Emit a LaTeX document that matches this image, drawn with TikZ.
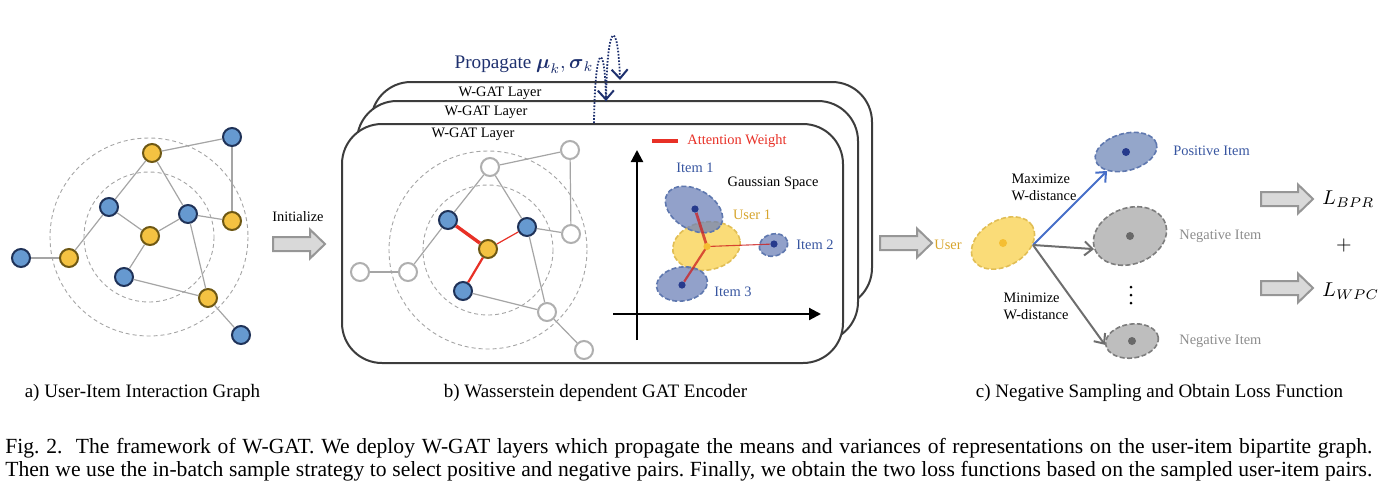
\documentclass[tikz,border=0pt]{standalone}
\usepackage{amsmath}
\usepackage{fontspec}
\setmainfont{Liberation Serif}
\usetikzlibrary{arrows.meta,shapes.geometric}
\definecolor{nodeblue}{RGB}{102,153,208}
\definecolor{nodeblueb}{RGB}{31,50,88}
\definecolor{nodeyel}{RGB}{244,194,66}
\definecolor{nodeyelb}{RGB}{110,88,20}
\definecolor{edgegray}{RGB}{165,165,165}
\definecolor{ringgray}{RGB}{165,165,165}
\definecolor{fadegray}{RGB}{175,175,175}
\definecolor{attred}{RGB}{232,48,38}
\definecolor{linkred}{RGB}{205,30,30}
\definecolor{navy}{RGB}{30,48,110}
\definecolor{gblue}{RGB}{110,130,185}
\definecolor{gblueb}{RGB}{95,120,175}
\definecolor{gdot}{RGB}{38,58,140}
\definecolor{gyel}{RGB}{250,220,120}
\definecolor{gyelb}{RGB}{225,190,85}
\definecolor{gyeldot}{RGB}{245,190,50}
\definecolor{ggray}{RGB}{190,190,190}
\definecolor{ggrayb}{RGB}{125,125,125}
\definecolor{gdotgray}{RGB}{105,105,105}
\definecolor{posfill}{RGB}{148,166,202}
\definecolor{txtblue}{RGB}{55,85,160}
\definecolor{txtgold}{RGB}{215,165,45}
\definecolor{txtgray}{RGB}{140,140,140}
\definecolor{arrfill}{RGB}{217,217,217}
\definecolor{arrdraw}{RGB}{150,150,150}
\definecolor{boxline}{RGB}{60,60,60}
\definecolor{posarrow}{RGB}{70,110,200}
\definecolor{negarrow}{RGB}{110,110,110}
\tikzset{
  gnode/.style={circle, inner sep=0pt, minimum size=9pt, line width=1pt},
  bnode/.style={gnode, fill=nodeblue, draw=nodeblueb},
  ynode/.style={gnode, fill=nodeyel, draw=nodeyelb},
  wnode/.style={gnode, fill=white, draw=fadegray},
  gedge/.style={draw=edgegray, line width=0.6pt},
  ring/.style={draw=ringgray, line width=0.45pt, dash pattern=on 2pt off 1.5pt},
  lbl/.style={font=\fontsize{7.2}{8.6}\selectfont, inner sep=0pt},
  layerbox/.style={draw=boxline, fill=white, line width=1pt, rounded corners=20pt},
  gauss/.style={ellipse, inner sep=0pt, dash pattern=on 2.5pt off 1.2pt, line width=0.8pt},
  gdotst/.style={circle, inner sep=0pt, minimum size=3.6pt},
  vdotst/.style={circle, inner sep=0pt, minimum size=1.5pt, fill=black},
  prop/.style={draw=navy, line width=0.9pt, dash pattern=on 0.8pt off 0.8pt,
     -{Straight Barb[length=4.5pt,width=8pt,line width=1pt]}},
  bigarr/.pic={\draw[fill=arrfill, draw=arrdraw, line width=1pt]
     (0,-7) -- (37,-7) -- (37,-14.5) -- (52,0) -- (37,14.5) -- (37,7) -- (0,7) -- cycle;},
  axis/.style={line width=1.1pt, -{Triangle[length=6pt,width=6pt]}},
  carrow/.style={line width=1pt, -{Straight Barb[length=4pt,width=7pt,line width=1pt]}},
  capline/.style={font=\fontsize{10.8}{12}\selectfont, inner sep=0pt, anchor=base west}
}
\frenchspacing
\begin{document}
\begin{tikzpicture}[x=0.5pt,y=-0.5pt]
\useasboundingbox (0,0) rectangle (1378,494);

% ---------------- panel a ----------------
\draw[ring] (149,237) circle [radius=99];
\draw[ring] (149,237) circle [radius=65];
\node[bnode] (aTR) at (232,137) {};
\node[ynode] (aYT) at (152,153) {};
\node[bnode] (aBLI) at (109,207) {};
\node[bnode] (aBRI) at (188,214) {};
\node[ynode] (aYR) at (232,221) {};
\node[ynode] (aYC) at (150,236) {};
\node[bnode] (aBFL) at (21,258) {};
\node[ynode] (aYL) at (69,258) {};
\node[bnode] (aBB) at (124,277) {};
\node[ynode] (aYB) at (208,298) {};
\node[bnode] (aBBR) at (241,335) {};
\draw[gedge] (aTR) -- (aYT);
\draw[gedge] (aTR) -- (aYR);
\draw[gedge] (aYT) -- (aBLI);
\draw[gedge] (aYT) -- (aBRI);
\draw[gedge] (aBLI) -- (aYC);
\draw[gedge] (aBLI) -- (aYL);
\draw[gedge] (aBRI) -- (aYC);
\draw[gedge] (aBRI) -- (aYR);
\draw[gedge] (aBRI) -- (aYB);
\draw[gedge] (aYC) -- (aBB);
\draw[gedge] (aBFL) -- (aYL);
\draw[gedge] (aBB) -- (aYB);
\draw[gedge] (aYB) -- (aBBR);

\node[lbl] (tInit) at (298,217) {Initialize};
\pic (arrInit) at (273,244) {bigarr};

% ---------------- panel b ----------------
\draw[layerbox] (371,82) rectangle (872,308);
\draw[layerbox] (357,101) rectangle (858,342);
\draw[layerbox] (342,124) rectangle (843,363);
\node[lbl] (tL3) at (500,93) {W-GAT Layer};
\node[lbl] (tL2) at (486,112) {W-GAT Layer};
\node[lbl] (tL1) at (473,134) {W-GAT Layer};
\node[font=\fontsize{9.6}{11}\selectfont, text=navy, inner sep=0pt] (tProp) at (524,65)
   {Propagate $\boldsymbol{\mu}_k,\boldsymbol{\sigma}_k$};
\coordinate (p1s) at (594,123);
\coordinate (p1e) at (606,101);
\coordinate (p2e) at (620,80);
\draw[prop] (p1s) .. controls (595,40) and (605,40) .. (p1e);
\draw[prop] (p1e) .. controls (607,18) and (618,18) .. (p2e);

\draw[ring] (488,250) circle [radius=99];
\draw[ring] (488,250) circle [radius=65];
\node[wnode] (bTR) at (570,150) {};
\node[wnode] (bYT) at (490,167) {};
\node[bnode] (bBLI) at (448,220) {};
\node[bnode] (bBRI) at (527,227) {};
\node[wnode] (bYR) at (571,234) {};
\node[ynode] (bYC) at (488,249) {};
\node[wnode] (bBFL) at (360,272) {};
\node[wnode] (bYL) at (408,272) {};
\node[bnode] (bBB) at (463,291) {};
\node[wnode] (bYB) at (547,312) {};
\node[wnode] (bBBR) at (584,350) {};
\draw[gedge] (bTR) -- (bYT);
\draw[gedge] (bTR) -- (bYR);
\draw[gedge] (bYT) -- (bBLI);
\draw[gedge] (bYT) -- (bBRI);
\draw[gedge] (bBLI) -- (bYL);
\draw[gedge] (bBRI) -- (bYR);
\draw[gedge] (bBRI) -- (bYB);
\draw[gedge] (bBFL) -- (bYL);
\draw[gedge] (bBB) -- (bYB);
\draw[gedge] (bYB) -- (bBBR);
\draw[attred, line width=1.7pt] (bBLI) -- (bYC);
\draw[attred, line width=0.6pt] (bBRI) -- (bYC);
\draw[attred, line width=1.1pt] (bBB) -- (bYC);

% Gaussian space
\coordinate (yax0) at (637,340);
\coordinate (yax1) at (637,150);
\coordinate (xax0) at (613,314);
\coordinate (xax1) at (821,314);
\draw[axis] (yax0) -- (yax1);
\draw[axis] (xax0) -- (xax1);
\coordinate (leg0) at (652,141);
\coordinate (leg1) at (678,141);
\draw[attred, line width=1.6pt] (leg0) -- (leg1);
\node[lbl, text=attred, anchor=west] (tAtt) at (687,141) {Attention Weight};
\node[lbl, text=txtblue] (tI1) at (695,168) {Item 1};
\node[lbl] (tGS) at (773,183) {Gaussian Space};
\node[lbl, text=txtgold] (tU1) at (752,215) {User 1};
\node[lbl, text=txtblue, anchor=west] (tI2) at (796,245) {Item 2};
\node[lbl, text=txtblue, anchor=west] (tI3) at (714,292) {Item 3};

\node[gauss, fill=gyel, draw=gyelb, minimum width=34pt, minimum height=24pt, rotate=10] (gUser) at (706.5,246) {};
\node[gauss, fill=gblue, fill opacity=0.75, draw=gblueb, minimum width=31pt, minimum height=20pt, rotate=-30] (gItem1) at (694,209.5) {};
\node[gauss, fill=gblue, fill opacity=0.75, draw=gblueb, minimum width=14.5pt, minimum height=11pt, rotate=15] (gItem2) at (773.5,245) {};
\node[gauss, fill=gblue, fill opacity=0.75, draw=gblueb, minimum width=25.5pt, minimum height=17pt, rotate=8] (gItem3) at (682,284) {};
\node[gdotst, fill=gdot] (dI1) at (695,209) {};
\node[gdotst, fill=gdot] (dI2) at (774,244) {};
\node[gdotst, fill=gdot] (dI3) at (682,285) {};
\draw[linkred, opacity=0.75, line width=1.4pt] (707,246.5) -- (dI1);
\draw[linkred, opacity=0.8, line width=0.55pt] (707,246.5) -- (dI2);
\draw[linkred, opacity=0.75, line width=1.1pt] (707,246.5) -- (dI3);
\node[gdotst, fill=gyeldot] (dU) at (707,246.5) {};

% ---------------- panel c ----------------
\pic (arrEnc) at (880,243) {bigarr};
\node[lbl, text=txtgold] (tUser) at (948,245) {User};
\node[gauss, fill=gyel, draw=gyelb, minimum width=34pt, minimum height=23pt, rotate=30] (cUser) at (1003,243) {};
\node[gdotst, minimum size=4pt, fill=gyeldot] (cUd) at (1003,243) {};
\node[gauss, fill=posfill, draw=gblueb, minimum width=31.5pt, minimum height=18.5pt, rotate=15] (cPos) at (1126,152) {};
\node[gdotst, minimum size=4pt, fill=gdot] (cPd) at (1126,152) {};
\node[gauss, fill=ggray, draw=ggrayb, minimum width=37.5pt, minimum height=28pt, rotate=20] (cNeg1) at (1130,236) {};
\node[gdotst, minimum size=4pt, fill=gdotgray] (cN1d) at (1130,236) {};
\node[gauss, fill=ggray, draw=ggrayb, minimum width=26.5pt, minimum height=17pt, rotate=8] (cNeg2) at (1132,341) {};
\node[gdotst, minimum size=4pt, fill=gdotgray] (cN2d) at (1132,341) {};
\node[vdotst] (vd1) at (1131,287) {};
\node[vdotst] (vd2) at (1131,295) {};
\node[vdotst] (vd3) at (1131,303) {};

\node[lbl, text=txtblue, anchor=west] (tPos) at (1173,151) {Positive Item};
\node[lbl, text=txtgray, anchor=west] (tNeg1) at (1179,236) {Negative Item};
\node[lbl, text=txtgray, anchor=west] (tNeg2) at (1179,341) {Negative Item};

\coordinate (uo) at (1033,245);
\draw[carrow, draw=posarrow] (uo) -- (cPos);
\draw[carrow, draw=negarrow] (uo) -- (cNeg1.west);
\draw[carrow, draw=negarrow] (uo) -- (cNeg2.west);
\node[lbl, align=left] (tMax) at (1044,187) {Maximize\\W-distance};
\node[lbl, align=left] (tMin) at (1036,306) {Minimize\\W-distance};

\pic (arrL1) at (1261,199) {bigarr};
\pic (arrL2) at (1261,288) {bigarr};
\node[font=\fontsize{9.6}{12}\selectfont, anchor=west, inner sep=0pt] (tLBPR) at (1322,199) {$L_{BPR}$};
\node[font=\fontsize{10}{12}\selectfont, inner sep=0pt] (tPlus) at (1344,245) {$+$};
\node[font=\fontsize{9.6}{12}\selectfont, anchor=west, inner sep=0pt] (tLWPC) at (1322,291) {$L_{WPC}$};

% ---------------- captions ----------------
\node[font=\fontsize{9.5}{11}\selectfont, inner sep=0pt] (capA) at (142.5,393) {a) User-Item Interaction Graph};
\node[font=\fontsize{9.5}{11}\selectfont, inner sep=0pt] (capB) at (595.5,393) {b) Wasserstein dependent GAT Encoder};
\node[font=\fontsize{9.5}{11}\selectfont, inner sep=0pt] (capC) at (1159.5,393) {c) Negative Sampling and Obtain Loss Function};
\node[capline] (cap1) at (5,453)
  {\hbox to 683.5pt{Fig.~2.\ \ The framework of W-GAT. We deploy W-GAT layers which propagate the means and variances of representations on the user-item bipartite graph.}};
\node[capline] (cap2) at (5,476)
  {\hbox to 683.5pt{Then we use the in-batch sample strategy to select positive and negative pairs. Finally, we obtain the two loss functions based on the sampled user-item pairs.}};
\end{tikzpicture}
\end{document}
